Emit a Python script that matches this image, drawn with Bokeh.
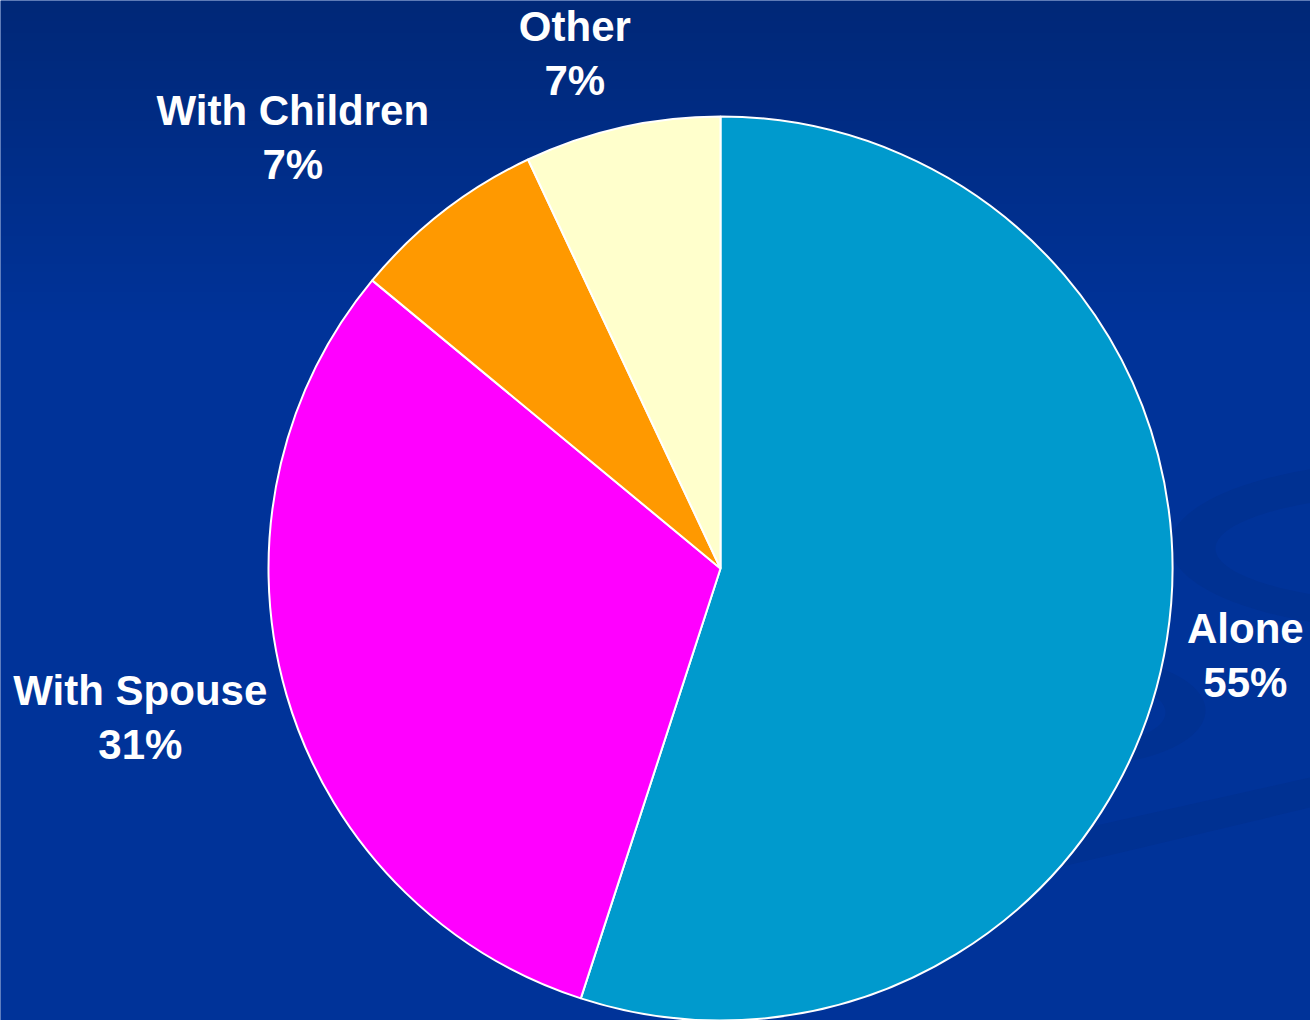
import numpy as np
from bokeh.plotting import figure
from bokeh.models import Range1d, ColumnDataSource
from bokeh.core.properties import value
from bokeh.embed import file_html
from bokeh.resources import INLINE

# ---- data ----
categories = ["Alone", "With Spouse", "With Children", "Other"]
shares = [55, 31, 7, 7]
pct_labels = ["55%", "31%", "7%", "7%"]
colors = ["#009ACD", "#FF00FF", "#FF9900", "#FFFFCC"]

# ---- layout (pixel coords, y downward -> data y = -py) ----
W, H = 1310, 1020
CX, CY, R = 720, 568, 452
label_radius = [532, 599, 607, 535]
label_angle_nudge = [0.4, 1.8, -7.0, -3.2]  # degrees
line_gap = 27

p = figure(width=W, height=H, output_backend="svg", toolbar_location=None,
           x_range=Range1d(0, W), y_range=Range1d(-H, 0),
           min_border=0, outline_line_color=None)
p.axis.visible = False
p.grid.visible = False
p.background_fill_color = "#003399"
p.border_fill_color = "#003399"

# background gradient
N = 256
ys = np.linspace(H, 0, N)  # row 0 at bottom
t = np.clip(ys / 320.0, 0, 1)
top = np.array([0, 40, 120]); bot = np.array([0, 51, 153])
rgb = (top[None, :] * (1 - t[:, None]) + bot[None, :] * t[:, None]).astype(np.uint32)
img = np.empty((N, 1), dtype=np.uint32)
view = img.view(dtype=np.uint8).reshape((N, 1, 4))
view[:, 0, 0] = rgb[:, 0]; view[:, 0, 1] = rgb[:, 1]; view[:, 0, 2] = rgb[:, 2]; view[:, 0, 3] = 255
p.image_rgba(image=[img], x=0, y=-H, dw=W, dh=H)

# decorative swooshes (subtle darker shapes)
dark = "#003192"
def ellipse_pts(cx, cy, a, b, t0, t1, n=120):
    tt = np.linspace(t0, t1, n)
    return cx + a * np.cos(tt), cy + b * np.sin(tt)
ox, oy = ellipse_pts(1420, 545, 250, 85, np.pi * 0.5, np.pi * 1.5)
ix, iy = ellipse_pts(1430, 548, 215, 55, np.pi * 1.5, np.pi * 0.5)
p.patch(np.r_[ox, ix], -np.r_[oy, iy], fill_color=dark, line_color=None)
ox, oy = ellipse_pts(1080, 710, 125, 55, -np.pi * 0.6, np.pi * 0.6)
ix, iy = ellipse_pts(1070, 712, 95, 35, np.pi * 0.6, -np.pi * 0.6)
p.patch(np.r_[ox, ix], -np.r_[oy, iy], fill_color=dark, line_color=None)
p.patch([560, 1310, 1310, 560], [-945, -777, -807, -985], fill_color=dark, line_color=None)

# pie
vals = np.array(shares, dtype=float)
cum = np.cumsum(vals) / vals.sum()
before = np.r_[0, cum[:-1]]
start = np.pi / 2 - 2 * np.pi * before
end = np.pi / 2 - 2 * np.pi * cum
src = ColumnDataSource(dict(start=start, end=end, color=colors, cat=categories))
p.wedge(x=CX, y=-CY, radius=R, start_angle="start", end_angle="end",
        direction="clock", fill_color="color", line_color="white", line_width=2,
        source=src)

# labels
mid = 2 * np.pi * (before + cum) / 2 + np.radians(label_angle_nudge)
lx = CX + np.array(label_radius) * np.sin(mid)
ly = CY - np.array(label_radius) * np.cos(mid)
common = dict(text_font=value("Liberation Sans"), text_font_style="bold",
              text_font_size="42px", text_color="white", text_align="center",
              text_baseline="middle")
p.text(x=lx, y=-(ly - line_gap), text=categories, **common)
p.text(x=lx, y=-(ly + line_gap), text=pct_labels, **common)

open("out.html", "w").write(file_html(p, INLINE))
